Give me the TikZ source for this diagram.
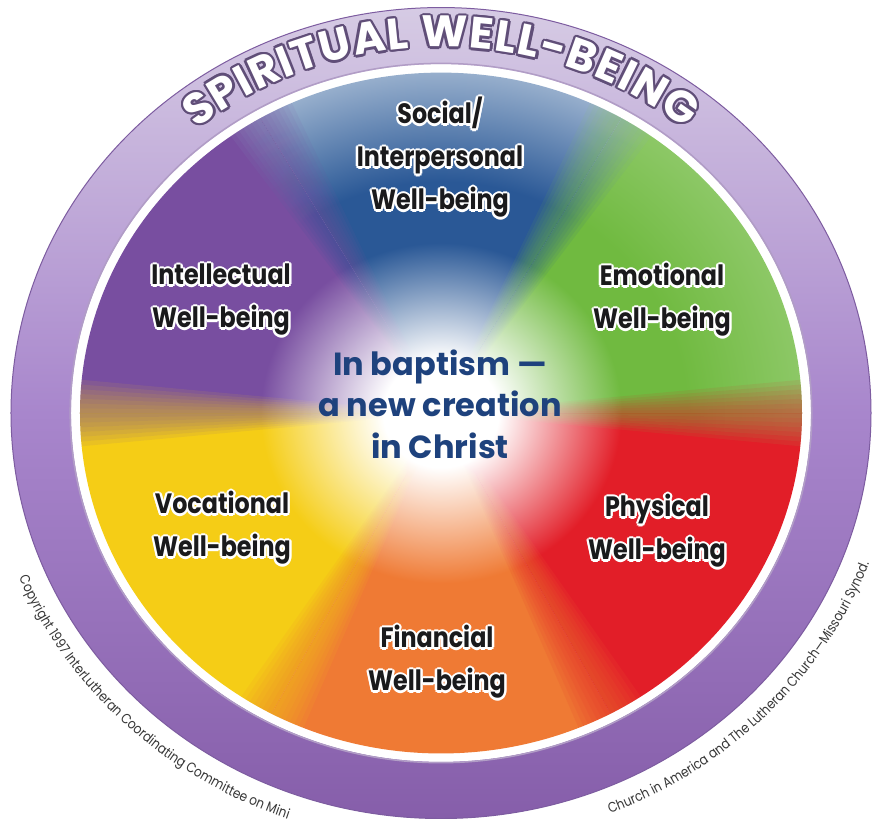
\documentclass[tikz,border=0pt]{standalone}
\usepackage{fontspec}
\usetikzlibrary{decorations.text}

\newfontfamily\ringfont{Poppins}
\newfontfamily\labelfont{Poppins}[FakeStretch=0.85]
\newfontfamily\printfont{Poppins}[FakeStretch=0.86]

\definecolor{ringtop}{RGB}{214,203,228}
\definecolor{ringmid}{RGB}{168,134,204}
\definecolor{ringbot}{RGB}{134,94,170}
\definecolor{ringedge}{RGB}{125,92,160}
\definecolor{ringletter}{RGB}{96,78,120}
\definecolor{labelink}{RGB}{26,26,28}
\definecolor{baptismblue}{RGB}{30,66,125}
\definecolor{copyink}{RGB}{55,55,55}
\definecolor{emogreen}{RGB}{112,186,64}
\definecolor{socblue}{RGB}{42,88,150}
\definecolor{socrim}{RGB}{150,174,204}
\definecolor{intpurple}{RGB}{120,78,160}
\definecolor{vocyellow}{RGB}{245,205,22}
\definecolor{finorange}{RGB}{239,122,52}
\definecolor{physred}{RGB}{226,30,40}

\colorlet{spokemid}{white}
\colorlet{spokeout}{white}
% 25bp is the rim of the disc
\pgfdeclareradialshading[spokemid,spokeout]{spoke}{\pgfpoint{0bp}{0bp}}{%
  color(0bp)=(white); color(4bp)=(white); color(12.5bp)=(spokemid);
  color(17bp)=(spokemid); color(25bp)=(spokeout); color(50bp)=(spokeout)}

% white glow behind the dark label text
\newcommand\halo[1]{\leavevmode\rlap{\color{white}%
  \rlap{\kern2.4pt#1}\rlap{\kern-2.4pt#1}%
  \rlap{\raise2.4pt\hbox{#1}}\rlap{\lower2.4pt\hbox{#1}}%
  \rlap{\kern1.7pt\raise1.7pt\hbox{#1}}\rlap{\kern-1.7pt\raise1.7pt\hbox{#1}}%
  \rlap{\kern1.7pt\lower1.7pt\hbox{#1}}\rlap{\kern-1.7pt\lower1.7pt\hbox{#1}}}#1}

\begin{document}
\begin{tikzpicture}[
    x=1pt, y=0.943pt,
    sector label/.style={
      font=\labelfont\bfseries\fontsize{28}{43}\selectfont,
      text=labelink,
      align=center,
      inner sep=0pt
    },
    center label/.style={
      font=\ringfont\bfseries\fontsize{32}{41.5}\selectfont,
      text=baptismblue,
      align=center,
      inner sep=0pt
    },
    ring words/.style={
      decorate,
      decoration={text along path, text align=fit to path, text color=#1,
        text={|\ringfont\bfseries\fontsize{44}{44}\selectfont|SPIRITUAL WELL-BEING}}
    },
    small print/.style={
      decorate,
      decoration={text along path, text align=#1, text color=copyink,
        text={|\printfont\fontsize{14}{14}\selectfont|\copyline}}
    }
  ]

  \useasboundingbox (-441,-429.5) rectangle (431,438);
  \clip (-441,-429.5) rectangle (431,438);
  \fill[white] (-441,-429.5) rectangle (431,438);

  % outer ring
  \shade[even odd rule, top color=ringtop, bottom color=ringbot, middle color=ringmid]
    (0,0) circle (430) (0,0) circle (370);
  \draw[ringedge, line width=1] (0,0) circle (430);
  \draw[ringedge!60, line width=1.5] (0,0) circle (370.8);

  % the six sectors, then a soft overlap at each border
  \foreach \from/\to/\colA/\colB in {0/60/emogreen/emogreen!80!white,
      60/120/socblue/socrim, 120/180/intpurple/intpurple,
      180/242/vocyellow/vocyellow, 242/298/finorange/finorange,
      298/360/physred/physred}{
    \begin{scope}
      \clip (0,0) -- (\from:800) -- ({(\from+\to)/2}:800) -- (\to:800) -- cycle;
      \colorlet{spokemid}{\colA}\colorlet{spokeout}{\colB}
      \shade[shading=spoke] (0,0) circle (361);
    \end{scope}
  }
  \foreach \from/\to/\colA/\colB in {0/60/emogreen/emogreen!80!white,
      60/120/socblue/socrim, 120/180/intpurple/intpurple,
      180/242/vocyellow/vocyellow, 242/298/finorange/finorange,
      298/360/physred/physred}{
    \foreach \d in {0.8,1.6,...,6.4}{
      \begin{scope}[fill opacity=0.09]
        \clip (0,0) -- (\from-\d:800) -- (\from:800) -- cycle
              (0,0) -- (\to:800) -- (\to+\d:800) -- cycle;
        \colorlet{spokemid}{\colA}\colorlet{spokeout}{\colB}
        \shade[shading=spoke] (0,0) circle (361);
      \end{scope}
    }
  }

  % ring lettering
  \foreach \ang in {0,30,...,330}
    \path[ring words=ringletter, shift={(\ang:2.4)}]
      (129:388) arc[start angle=129, end angle=51, radius=388];
  \path[ring words=white] (129:388) arc[start angle=129, end angle=51, radius=388];

  % copyright along the rim
  \def\copyline{Copyright 1997 InterLutheran Coordinating Committee on Mini}
  \path[small print=left] (202.5:457) arc[start angle=202.5, end angle=262, radius=457];
  \def\copyline{Church in America and The Lutheran Church—Missouri Synod.}
  \path[small print=right] (280:457) arc[start angle=280, end angle=339.5, radius=457];

  \node[center label] (baptism) at (-1,9.5) {In baptism —\\a new creation\\in Christ};

  \node[sector label] (social) at (-1,271) {\halo{Social/}\\\halo{Interpersonal}\\\halo{Well-being}};
  \node[sector label] (intellectual) at (-220,120) {\halo{Intellectual}\\\halo{Well-being}};
  \node[sector label] (emotional) at (221,120) {\halo{Emotional}\\\halo{Well-being}};
  \node[sector label] (vocational) at (-219,-122) {\halo{Vocational}\\\halo{Well-being}};
  \node[sector label] (physical) at (216,-125) {\halo{Physical}\\\halo{Well-being}};
  \node[sector label] (financial) at (-4,-264) {\halo{Financial}\\\halo{Well-being}};

\end{tikzpicture}
\end{document}
